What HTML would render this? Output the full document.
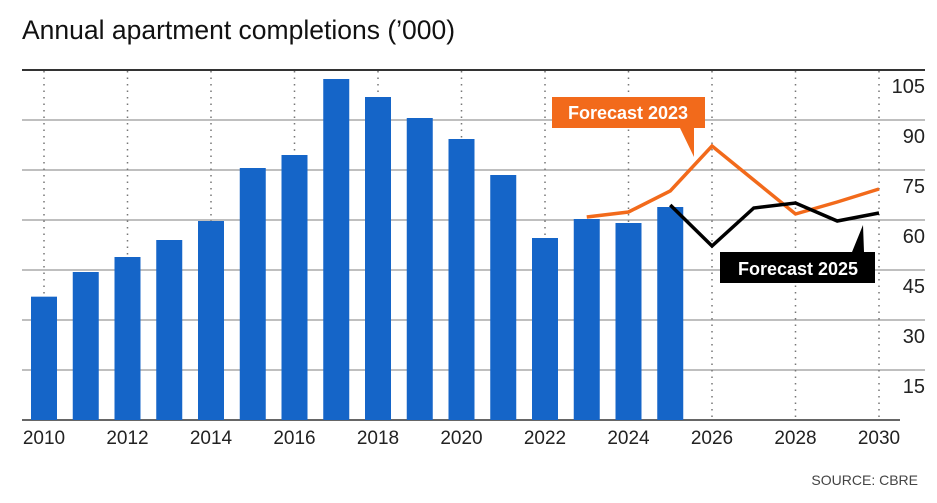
<!DOCTYPE html>
<html><head><meta charset="utf-8"><style>
body{margin:0;background:#fff;width:937px;height:498px;overflow:hidden;font-family:"Liberation Sans",sans-serif}
</style></head><body>
<svg width="937" height="498" id="c">
<text x="22" y="39" font-size="26.5" fill="#111">Annual apartment completions (’000)</text>
<text x="918" y="485" font-size="14" fill="#444" text-anchor="end">SOURCE: CBRE</text>
<g id="grid"></g><g id="bars"></g><g id="lines"></g><g id="ann"></g>
</svg>
<script>
const years=[2010,2011,2012,2013,2014,2015,2016,2017,2018,2019,2020,2021,2022,2023,2024,2025];
const completions=[37,44.4,48.9,54,59.7,75.6,79.5,102.3,96.9,90.6,84.3,73.5,54.6,60.3,59.1,63.9];
const f23Years=[2023,2024,2025,2026,2027,2028,2029,2030];
const f23Values=[60.9,62.4,68.7,82.2,72,61.8,65.4,69.3];
const f25Years=[2025,2026,2027,2028,2029,2030];
const f25Values=[64.5,52.2,63.6,65.1,59.7,62.1];
const yTicks=[15,30,45,60,75,90,105];
const xTicks=[2010,2012,2014,2016,2018,2020,2022,2024,2026,2028,2030];
const NS='http://www.w3.org/2000/svg';
const x=y=>44+(y-2010)*41.75;
const yv=v=>420-v*50/15;
function mk(tag,attrs,parent,txt){const e=document.createElementNS(NS,tag);for(const k in attrs)e.setAttribute(k,attrs[k]);if(txt!=null)e.textContent=txt;document.getElementById(parent).appendChild(e);return e;}
yTicks.forEach(t=>{
 const l=mk('line',{x1:22,x2:925,y1:yv(t),y2:yv(t),stroke:t===105?'#333':'#999','stroke-width':t===105?2:1.2},'grid');
 
 
 const tx=mk('text',{x:925,y:yv(t)+23,'font-size':20,fill:'#222','text-anchor':'end'},'grid',String(t));
 
 
});
xTicks.forEach(t=>{
 const l=mk('line',{x1:x(t),x2:x(t),y1:71,y2:420,stroke:'#777','stroke-width':1.5,'stroke-dasharray':'1.5 5'},'grid');
 
 
 const tx=mk('text',{x:x(t),y:444,'font-size':19,fill:'#222','text-anchor':'middle'},'grid',String(t));
 
 
});
const bl=mk('line',{x1:22,x2:900,y1:420,y2:420,stroke:'#333','stroke-width':1.5},'grid');


years.forEach((yr,i)=>{
 const r=mk('rect',{x:x(yr)-13,y:yv(completions[i]),width:26,height:420-yv(completions[i]),fill:'#1565c8'},'bars');
 
 
});
const p23=mk('polyline',{points:f23Years.map((y,i)=>x(y)+','+yv(f23Values[i])).join(' '),fill:'none',stroke:'#f26a1b','stroke-width':3.5},'lines');


const p25=mk('polyline',{points:f25Years.map((y,i)=>x(y)+','+yv(f25Values[i])).join(' '),fill:'none',stroke:'#000','stroke-width':3.5},'lines');


</script>
<svg width="937" height="498" style="position:absolute;left:0;top:0">
<g>
<polygon points="552,97 705,97 705,128 694,128 694,157 680,128 552,128" fill="#f26a1b"/>
<text x="628" y="119" font-size="18" font-weight="bold" fill="#fff" text-anchor="middle">Forecast 2023</text>
</g>
<g>
<polygon points="720,252 852,252 863,225 864,252 875,252 875,283 720,283" fill="#000"/>
<text x="798" y="275" font-size="18" font-weight="bold" fill="#fff" text-anchor="middle">Forecast 2025</text>
</g>
</svg>
</body></html>
